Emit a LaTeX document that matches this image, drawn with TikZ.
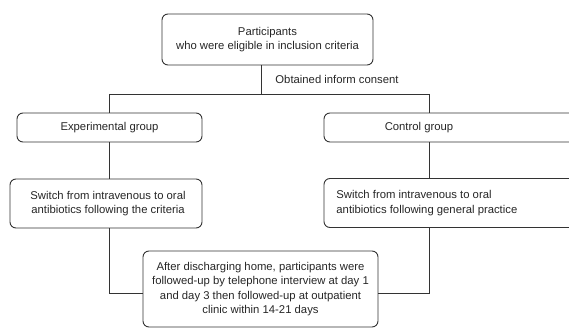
\documentclass[tikz,border=0pt]{standalone}
\usepackage{fontspec}
\setmainfont{Liberation Sans}
\begin{document}
\begin{tikzpicture}[x=1pt,y=-1pt,
  line width=0.9pt,
  every node/.style={font=\fontsize{11.3}{14.5}\selectfont, text=black!85},
  box/.style={draw=black!80, rounded corners=6pt, inner sep=0pt},
  conn/.style={draw=black!80}]
\useasboundingbox (0,0) rectangle (569,328);
\clip (0,0) rectangle (569,328);
% boxes
\node[box, minimum width=211pt, minimum height=51pt, align=center] (top) at (267.5,39.5)
  {Participants\\who were eligible in inclusion criteria};
\node[box, minimum width=185pt, minimum height=29pt] (exp) at (109.5,127.5) {};
\node at (109.5,127.5) {Experimental group};
\node[box, minimum width=260pt, minimum height=29pt] (ctl) at (454,127.5) {};
\node at (419,127.5) {Control group};
\node[box, minimum width=192pt, minimum height=49pt] (exp2) at (106,203.5) {};
\node[align=center] at (108,203.5) {Switch from intravenous to oral\\antibiotics following the criteria};
\node[box, minimum width=260pt, minimum height=49pt] (ctl2) at (454,203) {};
\node[align=left, anchor=west, inner sep=0pt] at (336,203) {Switch from intravenous to oral\\antibiotics following general practice};
\node[box, minimum width=235pt, minimum height=76pt, align=center] (bot) at (260.5,289)
  {After discharging home, participants were\\followed-up by telephone interview at day 1\\and day 3 then followed-up at outpatient\\clinic within 14-21 days};
% connectors
\coordinate (split) at (261,94);
\coordinate (lsplit) at (109,94);
\coordinate (rsplit) at (429,94);
\coordinate (lbot) at (109,293);
\coordinate (rbot) at (429,293);
\draw[conn] (top.south -| split) -- (split);
\draw[conn] (lsplit) -- (rsplit);
\draw[conn] (lsplit) -- (exp.north -| lsplit);
\draw[conn] (rsplit) -- (ctl.north -| rsplit);
\draw[conn] (exp.south -| lsplit) -- (exp2.north -| lsplit);
\draw[conn] (ctl.south -| rsplit) -- (ctl2.north -| rsplit);
\draw[conn] (exp2.south -| lbot) -- (lbot) -- (bot.west |- lbot);
\draw[conn] (ctl2.south -| rbot) -- (rbot) -- (bot.east |- rbot);
\node[anchor=west, inner sep=0pt] (consent) at (275,79) {Obtained inform consent};
\end{tikzpicture}
\end{document}
